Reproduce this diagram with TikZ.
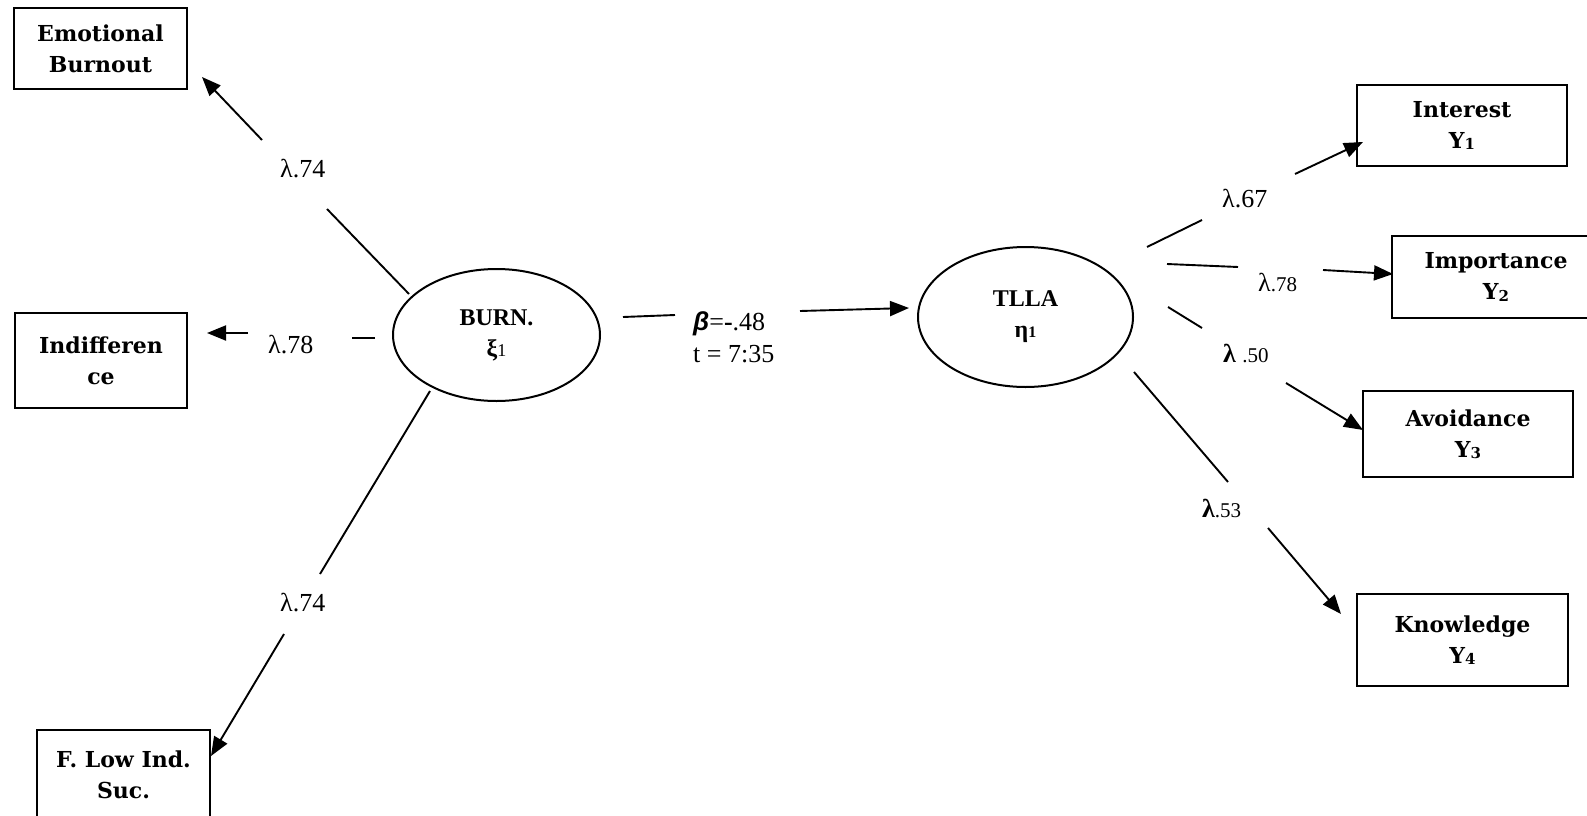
\documentclass[tikz,border=0pt]{standalone}
\usepackage{fontspec}
\setmainfont{Liberation Serif}
\newfontfamily\boxfont{DejaVu Serif}
\newfontfamily\betafont{Liberation Sans}
\usetikzlibrary{shapes.geometric,arrows.meta}

\tikzset{
  indicator/.style={draw, rectangle, line width=2pt, inner sep=0pt, align=center,
    font=\boxfont\bfseries\fontsize{22}{31}\selectfont},
  latent/.style={draw, ellipse, line width=2pt, inner sep=0pt, align=center,
    font=\bfseries\fontsize{24}{31}\selectfont},
  coef/.style={anchor=base west, inner sep=0pt, font=\fontsize{26}{30}\selectfont},
  link/.style={line width=1.9pt},
  linkarrow/.style={line width=1.9pt, -{Triangle[length=19pt,width=15pt]}},
}
\newcommand{\ysub}[1]{\raisebox{-1.5pt}{\fontsize{15}{15}\selectfont #1}}
\newcommand{\smallnum}[1]{{\fontsize{21}{21}\selectfont #1}}

\begin{document}
\begin{tikzpicture}[x=1pt,y=-1pt]
\useasboundingbox (0,0) rectangle (1587,816);

% latent variables
\node[latent, minimum width=207pt, minimum height=132pt] (burn) at (496.5,335)
  {BURN.\\ξ{\mdseries\fontsize{18}{18}\selectfont 1}};
\node[latent, minimum width=215pt, minimum height=140pt] (tlla) at (1025.5,317)
  {TLLA\\η{\fontsize{16}{16}\selectfont 1}};

% exogenous indicators
\node[indicator, minimum width=173pt, minimum height=81pt] (emo) at (100.5,48.5) {Emotional\\Burnout};
\node[indicator, minimum width=172pt, minimum height=95pt] (ind) at (101,360.5) {Indifferen\\ce};
\node[indicator, minimum width=173pt, minimum height=89pt] (flow) at (123.5,774.5) {F. Low Ind.\\Suc.};

% endogenous indicators
\node[indicator, minimum width=210pt, minimum height=81pt] (int) at (1462,125.5) {Interest\\Y\ysub{1}};
\node[indicator, minimum width=208pt, minimum height=82pt] (imp) at (1496,277) {Importance\\Y\ysub{2}};
\node[indicator, minimum width=210pt, minimum height=86pt] (avo) at (1468,434) {Avoidance\\Y\ysub{3}};
\node[indicator, minimum width=211pt, minimum height=92pt] (kno) at (1462.5,640) {Knowledge\\Y\ysub{4}};

% loadings of BURN
\coordinate (e1) at (409,294);  \coordinate (e2) at (327,209);
\coordinate (e3) at (262,140);  \coordinate (e4) at (202,77);
\draw[link] (e1) -- (e2);
\draw[linkarrow] (e3) -- (e4);
\node[coef] (le) at (280,177) {λ.74};

\coordinate (i1) at (375,338);  \coordinate (i2) at (352,338);
\coordinate (i3) at (248,333);  \coordinate (i4) at (207,333);
\draw[link] (i1) -- (i2);
\draw[linkarrow] (i3) -- (i4);
\node[coef] (li) at (268,353) {λ.78};

\coordinate (f1) at (430,391);  \coordinate (f2) at (320,574);
\coordinate (f3) at (284,634);  \coordinate (f4) at (211,756);
\draw[link] (f1) -- (f2);
\draw[linkarrow] (f3) -- (f4);
\node[coef] (lf) at (280,611) {λ.74};

% structural path
\coordinate (b1) at (623,317);  \coordinate (b2) at (675,315);
\coordinate (b3) at (800,311);  \coordinate (b4) at (909,308);
\draw[link] (b1) -- (b2);
\draw[linkarrow] (b3) -- (b4);
\node[coef] (beta) at (693,330) {{\betafont\bfseries\itshape β}={\bfseries -}.48};
\node[coef] (tval) at (693,362) {t = 7:35};

% loadings of TLLA
\coordinate (n1) at (1147,247); \coordinate (n2) at (1202,220);
\coordinate (n3) at (1295,174); \coordinate (n4) at (1363,142);
\draw[link] (n1) -- (n2);
\draw[linkarrow] (n3) -- (n4);
\node[coef] (ln) at (1222,207) {λ.67};

\coordinate (m1) at (1167,264); \coordinate (m2) at (1238,267);
\coordinate (m3) at (1323,270); \coordinate (m4) at (1393,274);
\draw[link] (m1) -- (m2);
\draw[linkarrow] (m3) -- (m4);
\node[coef] (lm) at (1258,291) {λ\smallnum{.78}};

\coordinate (a1) at (1168,307); \coordinate (a2) at (1202,328);
\coordinate (a3) at (1286,383); \coordinate (a4) at (1363,430);
\draw[link] (a1) -- (a2);
\draw[linkarrow] (a3) -- (a4);
\node[coef] (la) at (1223,362) {{\bfseries λ} \smallnum{.50}};

\coordinate (k1) at (1134,372); \coordinate (k2) at (1228,482);
\coordinate (k3) at (1268,528); \coordinate (k4) at (1341,614);
\draw[link] (k1) -- (k2);
\draw[linkarrow] (k3) -- (k4);
\node[coef] (lk) at (1202,517) {{\bfseries λ}\smallnum{.53}};
\end{tikzpicture}
\end{document}
